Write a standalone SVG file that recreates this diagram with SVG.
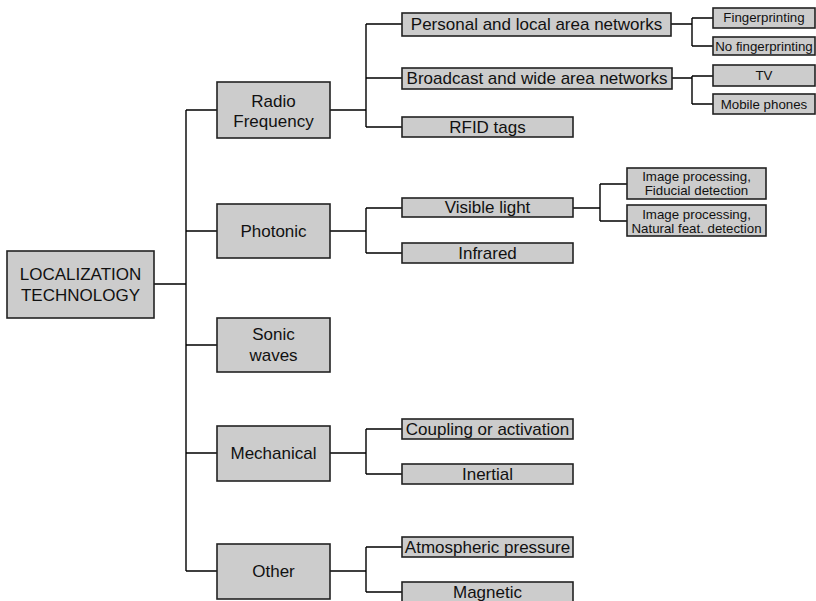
<svg xmlns="http://www.w3.org/2000/svg" width="816" height="601" viewBox="0 0 816 601">
<style>
.b{fill:#cccccc;stroke:#222;stroke-width:1.6}
.t{font-family:"Liberation Sans",Arial,sans-serif;fill:#111;text-anchor:middle}
.l1{font-size:17px}
.l2{font-size:17px}
.l3{font-size:13.3px}
.c{fill:none;stroke:#000;stroke-width:1.4}
</style>
<rect width="816" height="601" fill="#fff"/>
<g id="connectors" class="c">
<path d="M154 284H186M186 110V571M186 110H217M186 231H217M186 345H217M186 453H217M186 571H217"/>
<path d="M330 110H366M366 24V127M366 24H402M366 78H402M366 127H402" />
<path d="M671 24H692M692 18V46M692 18H713M692 46H713"/>
<path d="M672 78H692M692 76V104M692 76H713M692 104H713"/>
<path d="M330 231H366M366 208V253M366 208H402M366 253H402"/>
<path d="M573 208H600M600 184V221M600 184H627M600 221H627"/>
<path d="M330 453H366M366 429V474M366 429H402M366 474H402"/>
<path d="M330 571H366M366 547V592M366 547H402M366 592H402"/>
</g>
<g id="root"><rect class="b" x="7" y="251" width="147" height="67"/><text class="t l1" x="80.5" y="280">LOCALIZATION</text><text class="t l1" x="80.5" y="301">TECHNOLOGY</text></g>
<g id="radio"><rect class="b" x="217" y="82" width="113" height="56"/><text class="t l1" x="273.5" y="107">Radio</text><text class="t l1" x="273.5" y="127">Frequency</text></g>
<g id="photonic"><rect class="b" x="217" y="204" width="113" height="54"/><text class="t l1" x="273.5" y="237">Photonic</text></g>
<g id="sonic"><rect class="b" x="217" y="318" width="113" height="54"/><text class="t l1" x="273.5" y="340">Sonic</text><text class="t l1" x="273.5" y="361">waves</text></g>
<g id="mechanical"><rect class="b" x="217" y="426" width="113" height="55"/><text class="t l1" x="273.5" y="459">Mechanical</text></g>
<g id="other"><rect class="b" x="217" y="544" width="113" height="55"/><text class="t l1" x="273.5" y="577">Other</text></g>
<g id="personal"><rect class="b" x="402" y="13" width="269" height="23"/><text class="t l2" x="536.5" y="30">Personal and local area networks</text></g>
<g id="broadcast"><rect class="b" x="402" y="68" width="270" height="21"/><text class="t l2" x="537" y="84">Broadcast and wide area networks</text></g>
<g id="rfid"><rect class="b" x="402" y="117" width="171" height="20"/><text class="t l2" x="487.5" y="133">RFID tags</text></g>
<g id="visible"><rect class="b" x="402" y="198" width="171" height="19"/><text class="t l2" x="487.5" y="213">Visible light</text></g>
<g id="infrared"><rect class="b" x="402" y="243" width="171" height="20"/><text class="t l2" x="487.5" y="259">Infrared</text></g>
<g id="coupling"><rect class="b" x="402" y="419" width="171" height="20"/><text class="t l2" x="487.5" y="435">Coupling or activation</text></g>
<g id="inertial"><rect class="b" x="402" y="464" width="171" height="20"/><text class="t l2" x="487.5" y="480">Inertial</text></g>
<g id="atmospheric"><rect class="b" x="402" y="537" width="171" height="20"/><text class="t l2" x="487.5" y="553">Atmospheric pressure</text></g>
<g id="magnetic"><rect class="b" x="402" y="582" width="171" height="22"/><text class="t l2" x="487.5" y="598">Magnetic</text></g>
<g id="fingerprinting"><rect class="b" x="713" y="8" width="102" height="20"/><text class="t l3" x="764" y="22">Fingerprinting</text></g>
<g id="nofingerprinting"><rect class="b" x="713" y="37" width="102" height="18"/><text class="t l3" x="764" y="51">No fingerprinting</text></g>
<g id="tv"><rect class="b" x="713" y="65" width="102" height="21"/><text class="t l3" x="764" y="80">TV</text></g>
<g id="mobile"><rect class="b" x="713" y="94" width="102" height="20"/><text class="t l3" x="764" y="109">Mobile phones</text></g>
<g id="fiducial"><rect class="b" x="627" y="168" width="139" height="31"/><text class="t l3" x="696.5" y="181">Image processing,</text><text class="t l3" x="696.5" y="195">Fiducial detection</text></g>
<g id="natural"><rect class="b" x="627" y="205" width="139" height="31"/><text class="t l3" x="696.5" y="219">Image processing,</text><text class="t l3" x="696.5" y="233">Natural feat. detection</text></g>
</svg>
